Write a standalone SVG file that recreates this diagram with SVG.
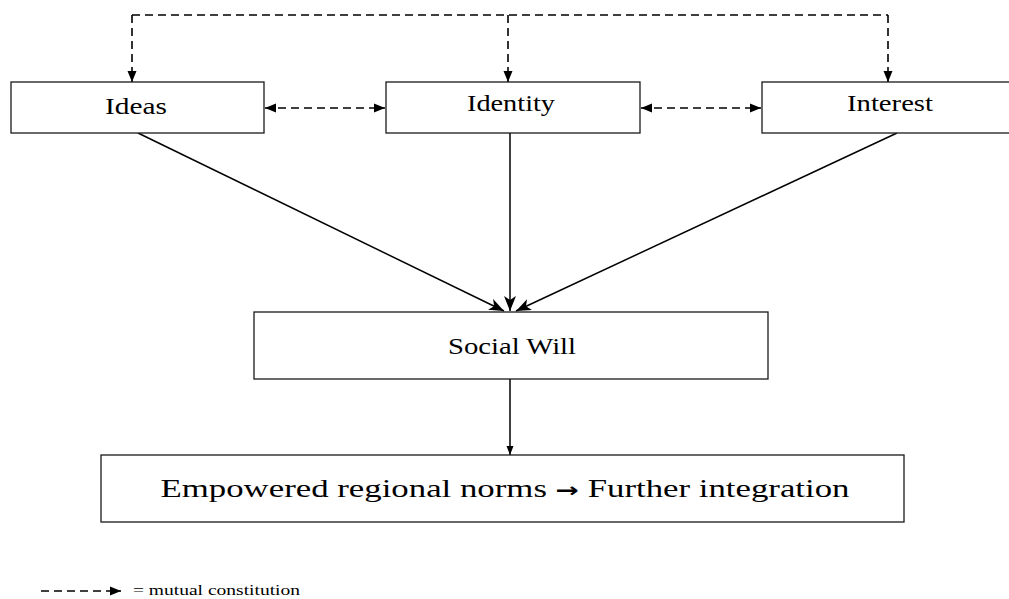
<svg xmlns="http://www.w3.org/2000/svg" width="1009" height="599" viewBox="0 0 1009 599">
  <style>
    .box { fill: #ffffff; stroke: #1a1a1a; stroke-width: 1.3; }
    .lbl { font-family: "Liberation Serif", "Times New Roman", serif; fill: #000; text-anchor: middle; }
    .dash { fill: none; stroke: #000; stroke-width: 1.6; stroke-dasharray: 8 5; }
    .solid { fill: none; stroke: #000; stroke-width: 1.5; }
  </style>
  <defs>
    <marker id="tri" markerUnits="userSpaceOnUse" markerWidth="12" markerHeight="12" viewBox="0 0 12 12" refX="11" refY="6" orient="auto-start-reverse">
      <path d="M0,1.5 L11,6 L0,10.5 Z" fill="#000"/>
    </marker>
    <marker id="barb" markerUnits="userSpaceOnUse" markerWidth="16" markerHeight="14" viewBox="0 0 16 14" refX="15" refY="7" orient="auto">
      <path d="M0,1 L15,7 L0,13 L4,7 Z" fill="#000"/>
    </marker>
    <marker id="small" markerUnits="userSpaceOnUse" markerWidth="10" markerHeight="10" viewBox="0 0 10 10" refX="9" refY="5" orient="auto">
      <path d="M0,1.5 L9,5 L0,8.5 Z" fill="#000"/>
    </marker>
  </defs>

  <!-- connectors -->
  <g id="connectors">
    <!-- mutual constitution loop across the top -->
    <path class="dash" d="M132,15 H888"/>
    <path class="dash" d="M132,15 V82" marker-end="url(#tri)"/>
    <path class="dash" d="M508,15 V82" marker-end="url(#tri)"/>
    <path class="dash" d="M888,15 V82" marker-end="url(#tri)"/>
    <!-- side-by-side mutual links -->
    <path class="dash" d="M265,108 H385" marker-start="url(#tri)" marker-end="url(#tri)"/>
    <path class="dash" d="M641,108 H761" marker-start="url(#tri)" marker-end="url(#tri)"/>
    <!-- converging into Social Will -->
    <path class="solid" d="M138,133 L504,311" marker-end="url(#barb)"/>
    <path class="solid" d="M510,133 V311" marker-end="url(#barb)"/>
    <path class="solid" d="M897,133 L516,311" marker-end="url(#barb)"/>
    <!-- Social Will to outcome -->
    <path class="solid" d="M510,379 V455" marker-end="url(#small)"/>
  </g>

  <g id="ideas">
    <rect class="box" x="11" y="82" width="253" height="51"/>
    <text class="lbl" x="136" y="114" font-size="23" textLength="62" lengthAdjust="spacingAndGlyphs">Ideas</text>
  </g>

  <g id="identity">
    <rect class="box" x="386" y="82" width="254" height="51"/>
    <text class="lbl" x="511" y="111" font-size="23" textLength="88" lengthAdjust="spacingAndGlyphs">Identity</text>
  </g>

  <g id="interest">
    <rect class="box" x="762" y="82" width="260" height="51"/>
    <text class="lbl" x="890" y="111" font-size="23" textLength="86" lengthAdjust="spacingAndGlyphs">Interest</text>
  </g>

  <g id="social-will">
    <rect class="box" x="254" y="312" width="514" height="67"/>
    <text class="lbl" x="512" y="354" font-size="24" textLength="128" lengthAdjust="spacingAndGlyphs">Social Will</text>
  </g>

  <g id="outcome">
    <rect class="box" x="101" y="455" width="803" height="67"/>
    <text class="lbl" x="505" y="497" font-size="25" textLength="689" lengthAdjust="spacingAndGlyphs">Empowered regional norms <tspan font-family="'DejaVu Sans', sans-serif" font-weight="bold" font-size="20">→</tspan> Further integration</text>
  </g>

  <g id="legend">
    <path class="dash" d="M41,591 H121" stroke-dasharray="6 4" marker-end="url(#tri)"/>
    <text x="133" y="595" font-size="15" font-family="'Liberation Serif', 'Times New Roman', serif" textLength="167" lengthAdjust="spacingAndGlyphs">= mutual constitution</text>
  </g>
</svg>
